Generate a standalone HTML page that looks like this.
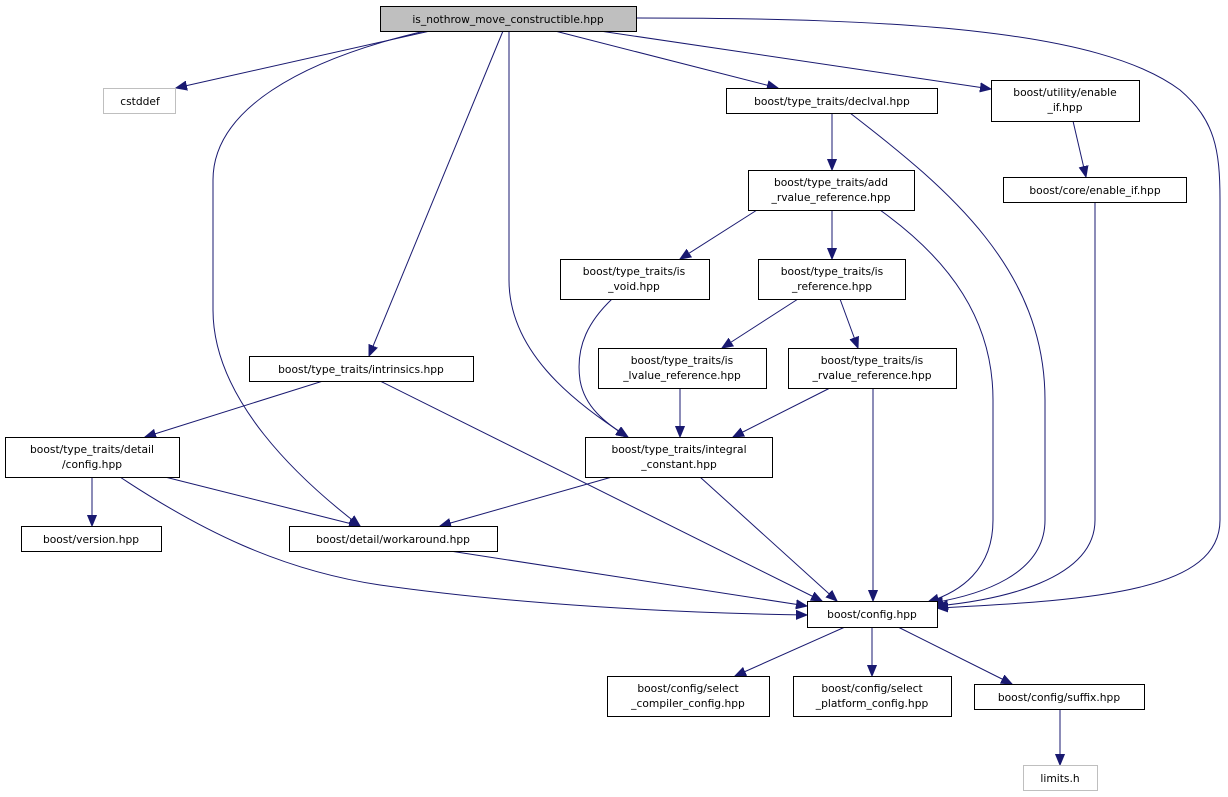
<!DOCTYPE html>
<html><head><meta charset="utf-8"><style>
html,body{margin:0;padding:0;background:#fff;}
svg{display:block;}
text{font-family:"DejaVu Sans","Liberation Sans",sans-serif;font-size:10.7px;fill:#000;text-anchor:middle;}
.n{fill:#fff;stroke:#000;stroke-width:1;}
.g{fill:#fff;stroke:#bfbfbf;stroke-width:1;}
.e{fill:none;stroke:#191970;stroke-width:1;marker-end:url(#a);}
</style></head><body>
<svg width="1228" height="797" viewBox="0 0 1228 797" xmlns="http://www.w3.org/2000/svg">
<defs><marker id="a" markerUnits="userSpaceOnUse" markerWidth="12" markerHeight="10" refX="11" refY="5" orient="auto"><path d="M0,0.5 L11,5 L0,9.5 z" fill="#191970" stroke="#191970"/></marker></defs>
<g>
<path class="e" d="M430,31 L176,88"/>
<path class="e" d="M425,31 C300,60 213,110 213,180 L213,310 C213,400 300,480 360,526"/>
<path class="e" d="M503,31 L369,356"/>
<path class="e" d="M509,31 L509,280 C509,350 570,400 628,437"/>
<path class="e" d="M555,31 L778,88"/>
<path class="e" d="M600,31 L991,89"/>
<path class="e" d="M637,18 C900,18 1100,30 1180,90 C1215,120 1220,150 1220,200 L1220,520 C1220,590 1100,600 937,608"/>
<path class="e" d="M850,113 C950,190 1045,270 1045,400 L1045,520 C1045,575 980,595 932,603"/>
<path class="e" d="M832,113 L832,170"/>
<path class="e" d="M1073,121 L1086,177"/>
<path class="e" d="M757,210 L680,259"/>
<path class="e" d="M832,210 L832,259"/>
<path class="e" d="M880,210 C950,260 993,320 993,400 L993,520 C993,570 960,592 928,602"/>
<path class="e" d="M1095,202 L1095,520 C1095,580 1000,600 937,606"/>
<path class="e" d="M612,299 C590,320 575,345 580,380 C585,410 610,425 627,437"/>
<path class="e" d="M798,299 L722,348"/>
<path class="e" d="M840,299 L858,348"/>
<path class="e" d="M680,388 L680,437"/>
<path class="e" d="M830,388 L733,437"/>
<path class="e" d="M873,388 L873,601"/>
<path class="e" d="M323,381 L145,437"/>
<path class="e" d="M380,381 L822,601"/>
<path class="e" d="M92,477 L92,526"/>
<path class="e" d="M165,477 L360,526"/>
<path class="e" d="M120,477 C200,530 280,570 380,585 C520,605 680,613 807,615"/>
<path class="e" d="M612,477 L440,526"/>
<path class="e" d="M700,477 L837,601"/>
<path class="e" d="M450,551 L807,606"/>
<path class="e" d="M845,627 L735,676"/>
<path class="e" d="M872,627 L872,676"/>
<path class="e" d="M898,627 L1012,684"/>
<path class="e" d="M1060,709 L1060,765"/>
</g>
<g>
<rect x="380.5" y="6.5" width="256" height="25" fill="#bfbfbf" stroke="#000"/><text x="508" y="23">is_nothrow_move_constructible.hpp</text>
<rect class="g" x="103.5" y="88.5" width="72" height="25"/><text x="140" y="105">cstddef</text>
<rect class="n" x="726.5" y="88.5" width="211" height="25"/><text x="832" y="105">boost/type_traits/declval.hpp</text>
<rect class="n" x="991.5" y="80.5" width="148" height="41"/><text x="1065" y="96">boost/utility/enable</text><text x="1065" y="111">_if.hpp</text>
<rect class="n" x="748.5" y="170.5" width="166" height="40"/><text x="831" y="186">boost/type_traits/add</text><text x="831" y="201">_rvalue_reference.hpp</text>
<rect class="n" x="1003.5" y="177.5" width="183" height="25"/><text x="1095" y="194">boost/core/enable_if.hpp</text>
<rect class="n" x="560.5" y="259.5" width="149" height="40"/><text x="634" y="275">boost/type_traits/is</text><text x="634" y="290">_void.hpp</text>
<rect class="n" x="758.5" y="259.5" width="147" height="40"/><text x="832" y="275">boost/type_traits/is</text><text x="832" y="290">_reference.hpp</text>
<rect class="n" x="249.5" y="356.5" width="224" height="25"/><text x="361" y="373">boost/type_traits/intrinsics.hpp</text>
<rect class="n" x="598.5" y="348.5" width="168" height="40"/><text x="682" y="364">boost/type_traits/is</text><text x="682" y="379">_lvalue_reference.hpp</text>
<rect class="n" x="788.5" y="348.5" width="168" height="40"/><text x="872" y="364">boost/type_traits/is</text><text x="872" y="379">_rvalue_reference.hpp</text>
<rect class="n" x="5.5" y="437.5" width="174" height="40"/><text x="92" y="453">boost/type_traits/detail</text><text x="92" y="468">/config.hpp</text>
<rect class="n" x="585.5" y="437.5" width="187" height="40"/><text x="679" y="453">boost/type_traits/integral</text><text x="679" y="468">_constant.hpp</text>
<rect class="n" x="21.5" y="526.5" width="140" height="25"/><text x="91" y="543">boost/version.hpp</text>
<rect class="n" x="289.5" y="526.5" width="208" height="25"/><text x="393" y="543">boost/detail/workaround.hpp</text>
<rect class="n" x="807.5" y="601.5" width="130" height="26"/><text x="872" y="618">boost/config.hpp</text>
<rect class="n" x="607.5" y="676.5" width="162" height="40"/><text x="688" y="692">boost/config/select</text><text x="688" y="707">_compiler_config.hpp</text>
<rect class="n" x="793.5" y="676.5" width="158" height="40"/><text x="872" y="692">boost/config/select</text><text x="872" y="707">_platform_config.hpp</text>
<rect class="n" x="974.5" y="684.5" width="170" height="25"/><text x="1059" y="701">boost/config/suffix.hpp</text>
<rect class="g" x="1023.5" y="765.5" width="74" height="25"/><text x="1060" y="782">limits.h</text>
</g>
</svg>
</body></html>
